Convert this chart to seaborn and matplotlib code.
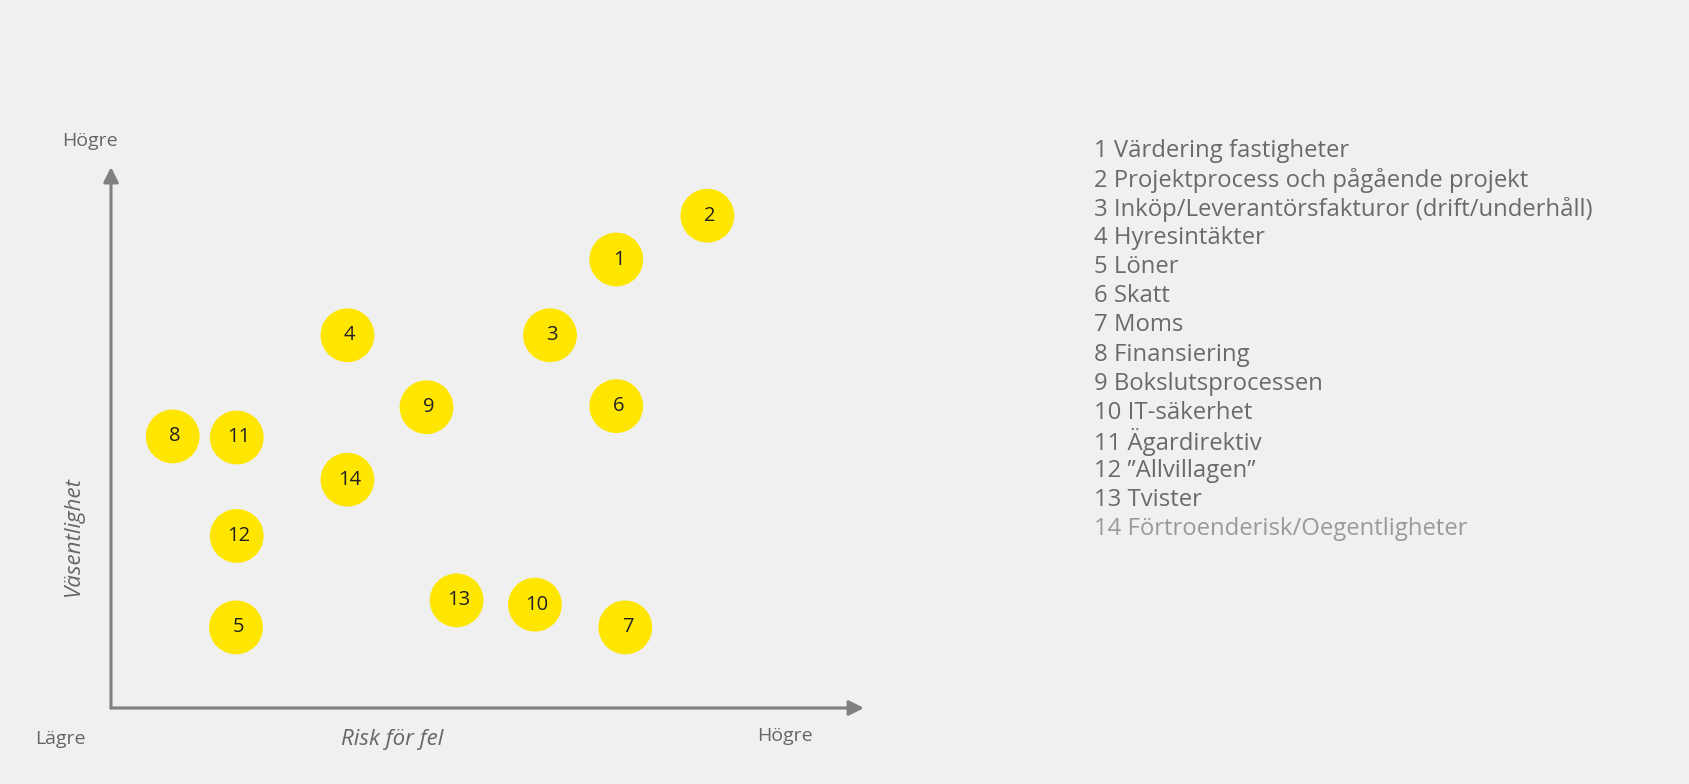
import matplotlib
matplotlib.use("Agg")
import matplotlib.pyplot as plt
import seaborn as sns
import pandas as pd

# ---- data ----
ids = [1, 2, 3, 4, 5, 6, 7, 8, 9, 10, 11, 12, 13, 14]
names = [
    "Värdering fastigheter",
    "Projektprocess och pågående projekt",
    "Inköp/Leverantörsfakturor (drift/underhåll)",
    "Hyresintäkter",
    "Löner",
    "Skatt",
    "Moms",
    "Finansiering",
    "Bokslutsprocessen",
    "IT-säkerhet",
    "Ägardirektiv",
    "\u201dAllvillagen\u201d",
    "Tvister",
    "Förtroenderisk/Oegentligheter",
]
risk = [6.71, 7.92, 5.83, 3.14, 1.66, 6.71, 6.83, 0.82, 4.19, 5.63, 1.67, 1.67, 4.59, 3.14]
vasentlighet = [8.29, 9.10, 6.89, 6.89, 1.49, 5.58, 1.49, 5.02, 5.56, 1.91, 5.00, 3.18, 1.99, 4.22]

x_label = "Risk för fel"
y_label = "Väsentlighet"
low_label = "Lägre"
high_label = "Högre"

df = pd.DataFrame({"id": ids, "risk": risk, "vas": vasentlighet})

BG = "#f0f0f0"
YELLOW = "#ffe600"
GREY = "#808080"
TXT = "#666666"

sns.set_style("white")
plt.rcParams["font.family"] = ["Open Sans", "DejaVu Sans"]

fig = plt.figure(figsize=(16.9, 7.84), dpi=100, facecolor=BG)
ax = fig.add_axes([111 / 1690, 1 - 708 / 784, 753 / 1690, 541 / 784])
ax.set_facecolor(BG)

sns.scatterplot(data=df, x="risk", y="vas", s=1500, color=YELLOW,
                edgecolor="none", linewidth=0, ax=ax, legend=False, zorder=3)
for i, xv, yv in zip(ids, risk, vasentlighet):
    ax.text(xv + 0.03, yv, str(i), ha="center", va="center", fontsize=14.5,
            color="#222222", zorder=4)

ax.set_xlim(0, 10)
ax.set_ylim(0, 10)
ax.set_xticks([])
ax.set_yticks([])
ax.set_xlabel("")
ax.set_ylabel("")
for sp in ax.spines.values():
    sp.set_visible(False)

# axis arrows
arrow_kw = dict(arrowstyle="-|>,head_length=0.9,head_width=0.45", color=GREY, lw=2.2,
                shrinkA=0, shrinkB=0)
ax.annotate("", xy=(1.0, 0), xytext=(0, 0), xycoords="axes fraction",
            textcoords="axes fraction", arrowprops=arrow_kw, annotation_clip=False)
ax.annotate("", xy=(0, 1.0), xytext=(0, 0), xycoords="axes fraction",
            textcoords="axes fraction", arrowprops=arrow_kw, annotation_clip=False)

# axis texts (figure pixel positions)
def ftext(px, py, s, size=14, **kw):
    fig.text(px / 1690, 1 - py / 784, s, ha="center", va="center",
             color=TXT, fontsize=size, **kw)

ftext(90, 141, high_label)
ftext(60, 739, low_label)
ftext(392, 739, x_label, size=16, style="italic")
ftext(785, 736, high_label)
ftext(73, 536, y_label, size=16, style="italic", rotation=90)

# legend list
y0 = 151
dy = (529 - 151) / 13
for k, (i, n) in enumerate(zip(ids, names)):
    col = "#9a9a9a" if k == len(ids) - 1 else "#6a6a6a"
    fig.text(1094 / 1690, 1 - (y0 + k * dy) / 784, f"{i} {n}", ha="left",
             va="center", fontsize=17.2, color=col)

fig.savefig("out.png", dpi=100, facecolor=BG)
